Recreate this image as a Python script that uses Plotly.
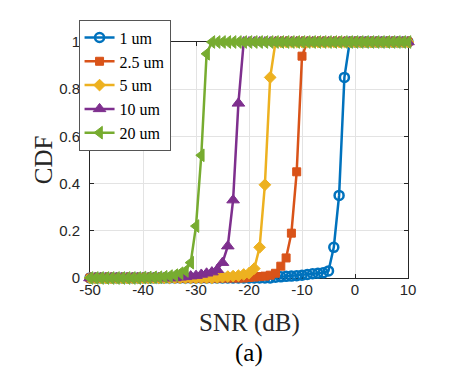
import plotly.graph_objects as go

snr_db = [-50, -49, -48, -47, -46, -45, -44, -43, -42, -41,
          -40, -39, -38, -37, -36, -35, -34, -33, -32, -31,
          -30, -29, -28, -27, -26, -25, -24, -23, -22, -21,
          -20, -19, -18, -17, -16, -15, -14, -13, -12, -11,
          -10, -9, -8, -7, -6, -5, -4, -3, -2, -1,
          0, 1, 2, 3, 4, 5, 6, 7, 8, 9, 10]

# CDF values, one per SNR point (-50 ... 10 dB)
cdf_1um = [0]*35 + [0.003, 0.005, 0.007, 0.008, 0.01, 0.012, 0.015, 0.018, 0.02, 0.022,
                    0.03, 0.13, 0.35, 0.85] + [1]*12
cdf_2p5um = [0]*30 + [0.002, 0.004, 0.006, 0.008, 0.012, 0.02, 0.05, 0.085, 0.19, 0.45,
                      0.94] + [1]*20
cdf_5um = [0]*24 + [0.002, 0.004, 0.006, 0.008, 0.01, 0.015, 0.02, 0.04, 0.13, 0.395,
                    0.85] + [1]*26
cdf_10um = [0]*17 + [0.003, 0.005, 0.008, 0.01, 0.015, 0.02, 0.025, 0.035, 0.065, 0.135,
                     0.33, 0.74] + [1]*32
cdf_20um = [0]*10 + [0.002, 0.002, 0.003, 0.003, 0.005, 0.008, 0.012, 0.02, 0.03, 0.065,
                     0.22, 0.52, 0.95] + [1]*38

labels = ["1 um", "2.5 um", "5 um", "10 um", "20 um"]
x_ticks = [-50, -40, -30, -20, -10, 0, 10]
x_ticktext = ["-50", "-40", "-30", "-20", "-10", "0", "10"]
y_ticks = [0, 0.2, 0.4, 0.6, 0.8, 1]
y_ticktext = ["0", "0.2", "0.4", "0.6", "0.8", "1"]

colors = ["#0072BD", "#D95319", "#EDB120", "#7E2F8E", "#77AC30"]
series = [cdf_1um, cdf_2p5um, cdf_5um, cdf_10um, cdf_20um]
symbols = ["circle-open", "square", "diamond", "triangle-up", "triangle-left"]
sizes = [9, 8, 9, 11, 11]

SANS = "Arial"
SERIF = "Liberation Serif"

fig = go.Figure()
for lab, col, ys, sym, sz in zip(labels, colors, series, symbols, sizes):
    fig.add_trace(go.Scatter(
        x=snr_db, y=ys, name=lab, mode="lines+markers",
        line=dict(color=col, width=2.5),
        marker=dict(symbol=sym, size=sz, color=col,
                    line=dict(color=col, width=2.5 if sym == "circle-open" else 1)),
        cliponaxis=False,
    ))

axis_common = dict(
    showline=True, linecolor="#262626", linewidth=1, mirror="ticks",
    ticks="inside", ticklen=4, tickcolor="#262626",
    showgrid=True, gridcolor="#e3e3e3", gridwidth=1,
    zeroline=False, layer="below traces",
    tickfont=dict(family=SANS, size=15, color="#262626"),
)

fig.update_layout(
    width=450, height=367,
    margin=dict(l=82, r=50, t=34, b=97),
    paper_bgcolor="white", plot_bgcolor="white",
    xaxis=dict(range=[-50, 10], tickvals=x_ticks, ticktext=x_ticktext,
               ticklabelstandoff=-2, **axis_common),
    yaxis=dict(range=[0, 1], tickvals=y_ticks, ticktext=y_ticktext,
               ticklabelstandoff=6, **axis_common),
    legend=dict(x=-0.036, y=1.095, xanchor="left", yanchor="top",
                bgcolor="white", bordercolor="#555555", borderwidth=1,
                font=dict(family=SERIF, size=16, color="black"),
                entrywidth=86, entrywidthmode="pixels",
                tracegroupgap=0),
    showlegend=True,
    annotations=[
        dict(text="SNR (dB)", xref="paper", yref="paper", x=0.5, y=-0.19,
             xanchor="center", yanchor="middle", showarrow=False,
             font=dict(family=SERIF, size=25, color="#262626")),
        dict(text="CDF", xref="paper", yref="paper", x=-0.147, y=0.5, textangle=-90,
             xanchor="center", yanchor="middle", showarrow=False,
             font=dict(family=SERIF, size=25, color="#262626")),
        dict(text="(a)", xref="paper", yref="paper", x=0.5, y=-0.318,
             xanchor="center", yanchor="middle", showarrow=False,
             font=dict(family=SERIF, size=25, color="black")),
    ],
)

fig.write_html("out.html")
